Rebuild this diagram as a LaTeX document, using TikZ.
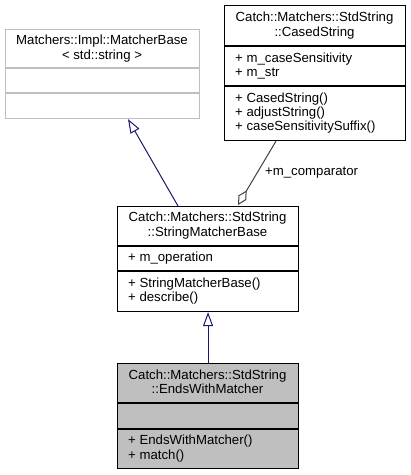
\documentclass[tikz,border=0pt]{standalone}
\usepackage{fontspec}
\setmainfont{Liberation Sans}
\usetikzlibrary{arrows.meta,calc}
\definecolor{edgeblue}{HTML}{191970}
\definecolor{aggrgray}{HTML}{404040}
\definecolor{boxgray}{HTML}{BFBFBF}
\begin{document}
\begin{tikzpicture}[x=1pt,y=-1pt,
  every node/.style={font=\fontsize{13.2}{14.2}\selectfont},
  umlbox/.style={draw=black,line width=1.1pt,rectangle,inner sep=0pt,anchor=north west},
  basebox/.style={umlbox,draw=boxgray},
  graybox/.style={umlbox,fill=boxgray},
  divider/.style={line width=1.1pt},
  ttl/.style={align=center,inner sep=0pt},
  mem/.style={align=left,anchor=west,inner sep=0pt},
  inherit/.style={draw=edgeblue,line width=1pt,-{Triangle[open,length=14pt,width=10pt,line width=1pt]}},
  aggr/.style={draw=aggrgray,line width=1pt,-{Diamond[open,length=17pt,width=9pt,line width=1pt]}},
  lbl/.style={anchor=west,inner sep=0pt}
]
\useasboundingbox (0,0) rectangle (411,475);
% Box A
\node[basebox,minimum width=194pt,minimum height=89pt] (A) at (5,29) {};
\draw[divider,boxgray] (5,68) -- (199,68) (5,93) -- (199,93);
\node[ttl] (At) at (102,48.5) {Matchers::Impl::MatcherBase\\< std::string >};
% Box B
\node[umlbox,minimum width=181pt,minimum height=135pt] (B) at (224,5) {};
\draw[divider] (224,46) -- (405,46) (224,86) -- (405,86);
\node[ttl] (Bt) at (314.5,25.5) {Catch::Matchers::StdString\\::CasedString};
\node[mem] (Ba) at (235,66) {+ m\_caseSensitivity\\+ m\_str};
\node[mem] (Bm) at (235,113) {+ CasedString()\\+ adjustString()\\+ caseSensitivitySuffix()};
% Box C
\node[umlbox,minimum width=181pt,minimum height=105pt] (C) at (117,206) {};
\draw[divider] (117,246) -- (298,246) (117,271) -- (298,271);
\node[ttl] (Ct) at (207.5,225.5) {Catch::Matchers::StdString\\::StringMatcherBase};
\node[mem] (Ca) at (128,258.5) {+ m\_operation};
\node[mem] (Cm) at (128,291) {+ StringMatcherBase()\\+ describe()};
% Box D
\node[graybox,minimum width=181pt,minimum height=105pt] (D) at (117,363) {};
\draw[divider] (117,403) -- (298,403) (117,429) -- (298,429);
\node[ttl] (Dt) at (207.5,382) {Catch::Matchers::StdString\\::EndsWithMatcher};
\node[mem] (Dm) at (128,448.5) {+ EndsWithMatcher()\\+ match()};
% Connectors
\draw[inherit] ($(C.north west)+(61,0)$) -- ($(A.south west)+(123,0)$);
\draw[inherit] (D.north) -- (C.south);
\draw[aggr] ($(B.south west)+(52,0)$) -- ($(C.north west)+(121,-1)$);
\node[lbl] (L) at (265,173) {+m\_comparator};
\end{tikzpicture}
\end{document}
